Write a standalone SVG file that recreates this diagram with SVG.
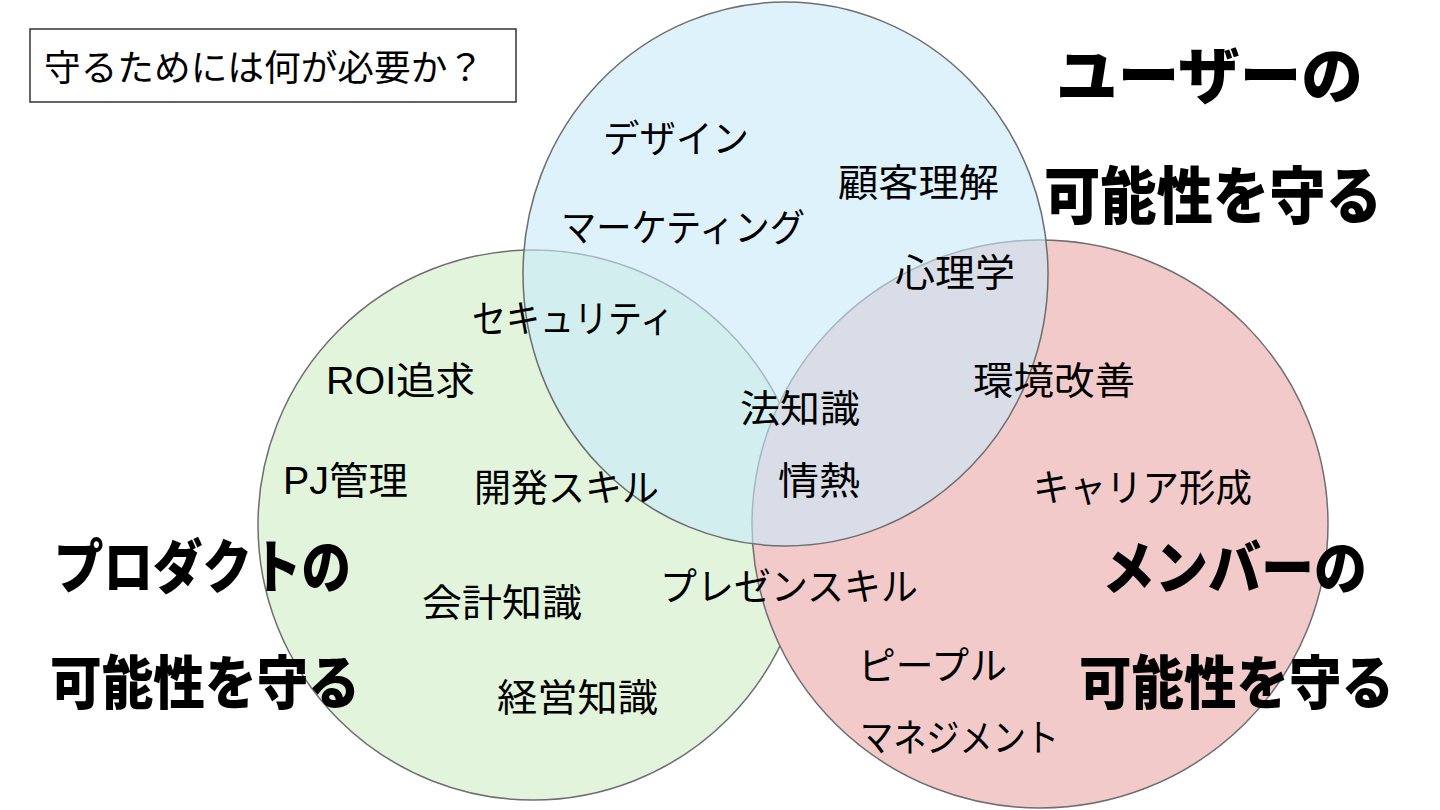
<svg xmlns="http://www.w3.org/2000/svg" width="1440" height="810" viewBox="0 0 1440 810">
  <style>
    .circle { stroke: #6e6e6e; stroke-width: 1.5; }
    .label { font-family: "Liberation Sans", "Noto Sans CJK JP", sans-serif; font-size: 38px; fill: #000; }
    .title { font-family: "Noto Sans CJK JP", sans-serif; font-weight: 900; fill: #000; }
    .t-big { font-size: 62px; }
    .t-mid { font-size: 58px; }
    .box { fill: #fff; stroke: #333; stroke-width: 1.5; }
    .boxtext { font-family: "Liberation Sans", "Noto Sans CJK JP", sans-serif; font-size: 36px; fill: #000; }
  </style>
  <rect x="0" y="0" width="1440" height="810" fill="#ffffff"/>

  <g id="circle-product">
    <ellipse class="circle" cx="533" cy="525" rx="275" ry="275" fill="#e2f4dc"/>
  </g>
  <g id="circle-member">
    <ellipse class="circle" cx="1040" cy="524" rx="288" ry="284" fill="#f2caca"/>
  </g>
  <g id="circle-user">
    <ellipse class="circle" cx="785.5" cy="274" rx="262.5" ry="272" fill="#c8e9fa" fill-opacity="0.6"/>
  </g>

  <g id="connectors"></g>

  <g id="question-box">
    <rect class="box" x="30" y="29" width="486" height="73"/>
    <text class="boxtext" x="44" y="81" textLength="440" lengthAdjust="spacingAndGlyphs">守るためには何が必要か？</text>
  </g>

  <g id="title-user">
    <text class="title t-big" x="1056" y="99" textLength="307" lengthAdjust="spacingAndGlyphs">ユーザーの</text>
    <text class="title t-big" x="1044" y="219" textLength="338" lengthAdjust="spacingAndGlyphs">可能性を守る</text>
  </g>
  <g id="title-product">
    <text class="title t-mid" x="54" y="588" textLength="297" lengthAdjust="spacingAndGlyphs">プロダクトの</text>
    <text class="title t-mid" x="50" y="704" textLength="310" lengthAdjust="spacingAndGlyphs">可能性を守る</text>
  </g>
  <g id="title-member">
    <text class="title t-mid" x="1102" y="589" textLength="265" lengthAdjust="spacingAndGlyphs">メンバーの</text>
    <text class="title t-mid" x="1079" y="704" textLength="315" lengthAdjust="spacingAndGlyphs">可能性を守る</text>
  </g>

  <g id="labels-user">
    <text class="label" x="603" y="152" textLength="146" lengthAdjust="spacingAndGlyphs">デザイン</text>
    <text class="label" x="838" y="196" textLength="161" lengthAdjust="spacingAndGlyphs">顧客理解</text>
    <text class="label" x="561" y="241" textLength="244" lengthAdjust="spacingAndGlyphs">マーケティング</text>
  </g>
  <g id="labels-user-member">
    <text class="label" x="895" y="286" textLength="120" lengthAdjust="spacingAndGlyphs">心理学</text>
    <text class="label" x="973" y="394" textLength="162" lengthAdjust="spacingAndGlyphs">環境改善</text>
    <text class="label" x="740" y="422" textLength="120" lengthAdjust="spacingAndGlyphs">法知識</text>
    <text class="label" x="778" y="494" textLength="82" lengthAdjust="spacingAndGlyphs">情熱</text>
  </g>
  <g id="labels-user-product">
    <text class="label" x="472" y="332" textLength="202" lengthAdjust="spacingAndGlyphs">セキュリティ</text>
    <text class="label" x="474" y="501" textLength="185" lengthAdjust="spacingAndGlyphs">開発スキル</text>
  </g>
  <g id="labels-product">
    <text class="label" x="326" y="394" textLength="149" lengthAdjust="spacingAndGlyphs">ROI追求</text>
    <text class="label" x="283" y="494" textLength="125" lengthAdjust="spacingAndGlyphs">PJ管理</text>
    <text class="label" x="422" y="616" textLength="160" lengthAdjust="spacingAndGlyphs">会計知識</text>
    <text class="label" x="497" y="711" textLength="161" lengthAdjust="spacingAndGlyphs">経営知識</text>
  </g>
  <g id="labels-product-member">
    <text class="label" x="660" y="600" textLength="258" lengthAdjust="spacingAndGlyphs">プレゼンスキル</text>
  </g>
  <g id="labels-member">
    <text class="label" x="1033" y="501" textLength="219" lengthAdjust="spacingAndGlyphs">キャリア形成</text>
    <text class="label" x="858" y="679" textLength="149" lengthAdjust="spacingAndGlyphs">ピープル</text>
    <text class="label" x="860" y="751" textLength="199" lengthAdjust="spacingAndGlyphs">マネジメント</text>
  </g>
</svg>
